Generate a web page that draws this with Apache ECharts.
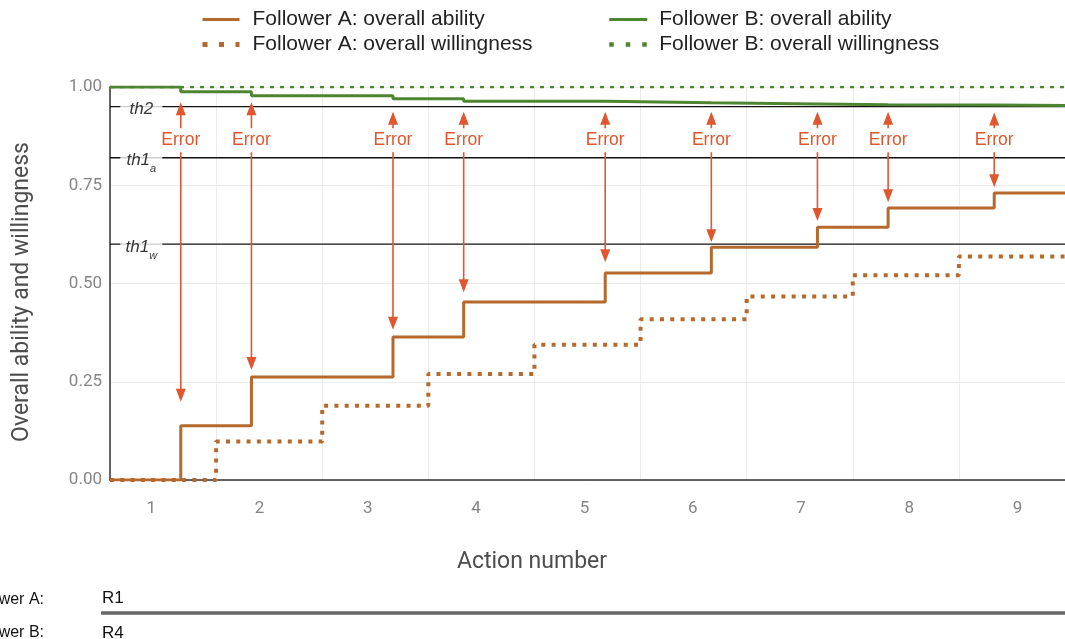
<!DOCTYPE html>
<html><head><meta charset="utf-8">
<script src="https://cdn.jsdelivr.net/npm/echarts@6/dist/echarts.min.js"></script>
<style>html,body{margin:0;padding:0;background:#fff}#c{width:1065px;height:639px}</style>
</head><body><div id="c"></div>
<script>
// ---- data ----
const actionLabels = [1, 2, 3, 4, 5, 6, 7, 8, 9];
const yTickValues = [0, 0.25, 0.5, 0.75, 1.0];
const abilityStepT = [0, 0.667, 1.333, 2.667, 3.333, 4.667, 5.667, 6.667, 7.333, 8.333, 9];
const abilityA = [0, 0.138, 0.262, 0.364, 0.453, 0.527, 0.592, 0.643, 0.692, 0.730, 0.730];
const abilityB = [1.0, 0.988, 0.978, 0.970, 0.964, 0.960, 0.957, 0.955, 0.954, 0.953, 0.953];
const willingStepT = [0, 1, 2, 3, 4, 5, 6, 7, 8, 9];
const willingA = [0, 0.098, 0.189, 0.270, 0.344, 0.409, 0.467, 0.521, 0.569, 0.569];
const willingB = [1, 1, 1, 1, 1, 1, 1, 1, 1, 1];
const errorT = [0.667, 1.333, 2.667, 3.333, 4.667, 5.667, 6.667, 7.333, 8.333];
const errorUpTip = [0.961, 0.961, 0.937, 0.937, 0.937, 0.937, 0.937, 0.937, 0.935];
const errorDownTip = [0.199, 0.280, 0.382, 0.478, 0.554, 0.605, 0.659, 0.707, 0.745];
const thNames = ['th2', 'th1a', 'th1w'];
const thValues = [0.95, 0.82, 0.60];
const roundLabelsA = ['R1'];
const roundLabelsB = ['R4'];

// ---- styling constants ----
const ORANGE = '#B5692C';
const GREEN = '#4E8531';
const RED = '#E0562F';
const ARIAL = '"Liberation Sans", Arial, Helvetica, sans-serif';
const ROBOTO = 'Roboto, "Noto Sans", sans-serif';
const ERR_UP_TAIL = 0.895, ERR_TEXT = 0.8646, ERR_DOWN_START = 0.834;
const TH_LABEL_T = 0.295;

const zip = (xs, ys) => xs.map((x, i) => [x, ys[i]]);

const chart = echarts.init(document.getElementById('c'), null, {renderer: 'canvas'});

const thRich = {
  m: {fontSize: 17, fontStyle: 'italic', color: '#000', fontFamily: ARIAL, lineHeight: 28},
  s: {fontSize: 11, fontStyle: 'italic', color: '#000', fontFamily: ARIAL, verticalAlign: 'bottom'}
};
function thFormatter(name) {
  if (name.length > 3) return '{m|' + name.slice(0, 3) + '}{s|' + name.slice(3) + '}';
  return '{m|' + name + '}';
}

const legendCommon = {
  orient: 'vertical', itemHeight: 14, itemGap: 4, selectedMode: false,
  itemStyle: {opacity: 0, borderWidth: 0}
};

const option = {
  animation: false,
  backgroundColor: '#fff',
  grid: {left: 110, top: 87, width: 958, height: 393, containLabel: false},
  legend: [
    Object.assign({}, legendCommon, {
      left: 195, top: 4, itemWidth: 37,
      textStyle: {fontSize: 21, color: '#222', fontFamily: ARIAL, lineHeight: 21, padding: [0, 0, 0, 8]},
      data: [
        {name: 'Follower A: overall ability', lineStyle: {width: 3, color: ORANGE, type: 'solid'}},
        {name: 'Follower A: overall willingness', lineStyle: {width: 5, type: [5, 11.5], color: ORANGE}}
      ]
    }),
    Object.assign({}, legendCommon, {
      left: 602, top: 4, itemWidth: 38,
      textStyle: {fontSize: 21, color: '#222', fontFamily: ARIAL, lineHeight: 21, padding: [0, 0, 0, 7]},
      data: [
        {name: 'Follower B: overall ability', lineStyle: {width: 3, color: GREEN, type: 'solid'}},
        {name: 'Follower B: overall willingness', lineStyle: {width: 4.5, type: [4.5, 12], color: GREEN}}
      ]
    })
  ],
  xAxis: [
    {
      type: 'value', min: 0, max: 9, interval: 1, position: 'bottom',
      axisLine: {show: true, onZero: false, lineStyle: {color: '#333', width: 1.5}},
      axisTick: {show: false}, axisLabel: {show: false},
      splitLine: {show: true, lineStyle: {color: '#ebebeb', width: 1}}
    },
    {
      type: 'value', min: 0.618, max: 9.439, position: 'bottom', offset: 0,
      axisLine: {show: false, onZero: false}, axisTick: {show: false},
      splitLine: {show: false},
      axisLabel: {show: true, customValues: actionLabels, margin: 20, fontSize: 17, color: '#858585', fontFamily: ROBOTO,
        formatter: v => String(Math.round(v))}
    }
  ],
  yAxis: {
    type: 'value', min: 0, max: 1, interval: 0.25,
    axisLine: {show: true, lineStyle: {color: '#333', width: 1.5}},
    axisTick: {show: false},
    axisLabel: {fontSize: 17, color: '#858585', fontFamily: ROBOTO, margin: 8,
      customValues: yTickValues, formatter: v => v.toFixed(2)},
    splitLine: {show: true, lineStyle: {color: '#ebebeb', width: 1}}
  },
  graphic: [
    {type: 'text', x: 22, y: 292, rotation: Math.PI / 2, z: 10,
      style: {text: 'Overall ability and willingness', align: 'center', verticalAlign: 'middle',
        fill: '#4d4d4d', font: '23px ' + ROBOTO}},
    {type: 'text', x: 532, y: 562, z: 10,
      style: {text: 'Action number', align: 'center', verticalAlign: 'middle',
        fill: '#4d4d4d', font: '23px ' + ROBOTO}},
    {type: 'text', x: 44, y: 600, z: 10,
      style: {text: 'Follower A:', align: 'right', verticalAlign: 'middle', fill: '#111', font: '16px ' + ARIAL}},
    {type: 'text', x: 44, y: 633, z: 10,
      style: {text: 'Follower B:', align: 'right', verticalAlign: 'middle', fill: '#111', font: '16px ' + ARIAL}},
    {type: 'text', x: 102, y: 598, z: 10,
      style: {text: roundLabelsA[0], align: 'left', verticalAlign: 'middle', fill: '#111', font: '17px ' + ARIAL}},
    {type: 'text', x: 102, y: 633, z: 10,
      style: {text: roundLabelsB[0], align: 'left', verticalAlign: 'middle', fill: '#111', font: '17px ' + ARIAL}},
    {type: 'line', z: 10, shape: {x1: 101, y1: 613, x2: 1065, y2: 613},
      style: {stroke: '#666', lineWidth: 3.5}}
  ],
  series: [
    // thresholds
    ...thValues.map((v, i) => ({
      type: 'line', name: 'thr_' + thNames[i], xAxisIndex: 0, yAxisIndex: 0,
      data: [[0, v], [9, v]], symbol: 'none', silent: true, z: 1,
      lineStyle: {color: '#111', width: 1.3}
    })),
    {
      type: 'scatter', name: 'thLabels', xAxisIndex: 0, yAxisIndex: 0, silent: true, z: 5,
      symbolSize: 0,
      data: thValues.map((v, i) => ({value: [TH_LABEL_T, v], name: thNames[i]})),
      label: {
        show: true, position: 'inside', offset: [0, 3],
        backgroundColor: '#fff', width: 30, align: 'center', padding: [0, 6],
        formatter: p => thFormatter(p.name), rich: thRich
      }
    },
    {
      type: 'line', name: 'Follower B: overall willingness', xAxisIndex: 0, yAxisIndex: 0,
      data: zip(willingStepT, willingB), step: 'end', symbol: 'none', showSymbol: false, z: 3,
      color: GREEN, lineStyle: {color: GREEN, width: 2.5, type: [4, 6]}
    },
    {
      type: 'line', name: 'Follower B: overall ability', xAxisIndex: 0, yAxisIndex: 0,
      data: zip(abilityStepT, abilityB), step: 'end', symbol: 'none', showSymbol: false, z: 3,
      color: GREEN, lineStyle: {color: GREEN, width: 3}
    },
    {
      type: 'line', name: 'Follower A: overall willingness', xAxisIndex: 0, yAxisIndex: 0,
      data: zip(willingStepT, willingA), step: 'end', symbol: 'none', showSymbol: false, z: 3,
      color: ORANGE, lineStyle: {color: ORANGE, width: 4, type: [4, 6.3]}
    },
    {
      type: 'line', name: 'Follower A: overall ability', xAxisIndex: 0, yAxisIndex: 0,
      data: zip(abilityStepT, abilityA), step: 'end', symbol: 'none', showSymbol: false, z: 3,
      color: ORANGE, lineStyle: {color: ORANGE, width: 3}
    },
    {
      type: 'custom', name: 'errors', xAxisIndex: 0, yAxisIndex: 0, silent: true, z: 6, clip: false,
      data: errorT.map((t, i) => [t, errorUpTip[i], errorDownTip[i]]),
      encode: {x: 0, y: 1},
      renderItem: function (params, api) {
        const t = api.value(0), upTip = api.value(1), downTip = api.value(2);
        const x = api.coord([t, 0])[0];
        const Y = v => api.coord([t, v])[1];
        const yUpTip = Y(upTip), yUpTail = Y(ERR_UP_TAIL), yText = Y(ERR_TEXT);
        const yDownStart = Y(ERR_DOWN_START), yDownTip = Y(downTip);
        const hw = 5, hl = 13;
        return {
          type: 'group', children: [
            {type: 'line', shape: {x1: x, y1: yUpTail, x2: x, y2: yUpTip + hl - 1}, style: {stroke: RED, lineWidth: 1.6}},
            {type: 'polygon', shape: {points: [[x, yUpTip], [x - hw, yUpTip + hl], [x + hw, yUpTip + hl]]}, style: {fill: RED}},
            {type: 'text', style: {text: 'Error', x: x, y: yText, align: 'center', verticalAlign: 'middle', fill: RED, font: '17.5px ' + ARIAL}},
            {type: 'line', shape: {x1: x, y1: yDownStart, x2: x, y2: yDownTip - hl + 1}, style: {stroke: RED, lineWidth: 1.6}},
            {type: 'polygon', shape: {points: [[x, yDownTip], [x - hw, yDownTip - hl], [x + hw, yDownTip - hl]]}, style: {fill: RED}}
          ]
        };
      }
    }
  ]
};
chart.setOption(option);
</script>
</body></html>
